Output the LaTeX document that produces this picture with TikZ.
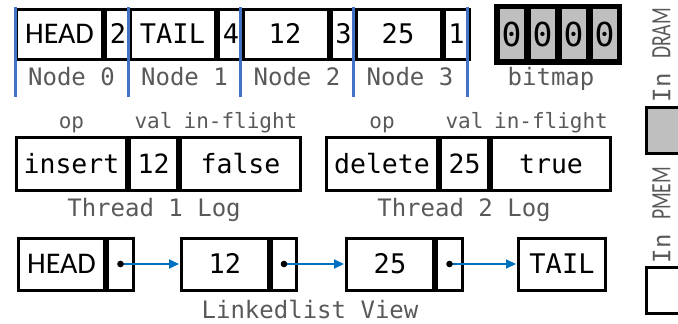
\documentclass[tikz,border=0pt]{standalone}
\usepackage{fontspec}
\usepackage{graphicx}
\setmonofont[RawFeature=+zero]{DejaVu Sans Mono}
\newfontfamily\sansfam{Carlito}
\usetikzlibrary{arrows.meta}
\definecolor{labgray}{HTML}{595959}
\definecolor{sepblue}{HTML}{4472C4}
\definecolor{ptrblue}{HTML}{0070C0}
\definecolor{bitgray}{HTML}{BFBFBF}

% memory legend label: mono "In", narrow sans memory name
\newcommand{\memlabel}[1]{\ttfamily\fontsize{24}{28}\selectfont In\ %
  \scalebox{0.7}[1]{\sansfam\fontsize{28}{30}\selectfont #1}}

\tikzset{
  cell/.style={draw=black, line width=3pt, rectangle, inner sep=0pt, anchor=west,
    minimum height=50pt, font=\ttfamily\fontsize{27}{30}\selectfont,
    text height=19.7pt, text depth=0pt},
  logcell/.style={cell, minimum height=53pt, font=\ttfamily\fontsize{26.5}{30}\selectfont,
    text height=19.3pt},
  listcell/.style={cell, minimum height=52pt},
  sanstext/.style={font=\sansfam\fontsize{30}{32}\selectfont, text height=19.3pt},
  bitcell/.style={draw=black, fill=bitgray, line width=3.5pt, rectangle, inner sep=0pt,
    anchor=west, minimum width=27.5pt, minimum height=53pt,
    font=\ttfamily\fontsize{33}{36}\selectfont, text height=24pt, text depth=0pt},
  caption/.style={anchor=base, inner sep=0pt, text=labgray,
    font=\ttfamily\fontsize{24}{28}\selectfont},
  header/.style={anchor=base, inner sep=0pt, text=labgray,
    font=\ttfamily\fontsize{21}{24}\selectfont},
  separator/.style={draw=sepblue, line width=3pt},
  pointer/.style={draw=ptrblue, line width=2pt, -{Triangle[length=10pt,width=9pt]}, shorten >=1pt},
  ptrdot/.style={fill=black},
  legendbox/.style={draw=black, line width=3pt, rectangle, inner sep=0pt, anchor=west,
    minimum width=45pt, minimum height=46pt},
  legendtext/.style={rotate=90, inner sep=0pt, text=labgray, text height=17.5pt, text depth=0pt},
}

\begin{document}
\begin{tikzpicture}[x=1pt, y=-1pt]
\useasboundingbox (0,0) rectangle (678,324);
\clip (0,0) rectangle (678,324);

% ---- node array ----
\node[cell, sanstext, minimum width=86pt] (a0v) at (15,34) {HEAD};
\node[cell, minimum width=25pt] (a0c) at (a0v.east) {2};
\node[cell, minimum width=86pt] (a1v) at (128,34) {TAIL};
\node[cell, minimum width=25pt] (a1c) at (a1v.east) {4};
\node[cell, minimum width=86pt] (a2v) at (240.5,34) {12};
\node[cell, minimum width=25pt] (a2c) at (a2v.east) {3};
\node[cell, minimum width=86pt] (a3v) at (353.5,34) {25};
\node[cell, minimum width=25pt] (a3c) at (a3v.east) {1};

\foreach \x [count=\i from 0] in {15,128,240.5,353.5,467} {
  \coordinate (s\i t) at (\x,7);
  \coordinate (s\i b) at (\x,97);
  \draw[separator] (s\i t) -- (s\i b);
}

\node[caption] (l0) at (71.5,85) {Node 0};
\node[caption] (l1) at (184.5,85) {Node 1};
\node[caption] (l2) at (297,85) {Node 2};
\node[caption] (l3) at (410,85) {Node 3};

% ---- bitmap ----
\node[bitcell] (b1) at (496,34) {0};
\node[bitcell] (b2) at (b1.east) {0};
\node[bitcell] (b3) at (b2.east) {0};
\node[bitcell] (b4) at (b3.east) {0};
\draw[line width=4.5pt] (b1.north west) rectangle (b4.south east);
\node[caption] (bl) at (551,85) {bitmap};

% ---- thread logs ----
\node[logcell, minimum width=110pt] (t1op) at (15,163.5) {insert};
\node[logcell, minimum width=48pt] (t1val) at (t1op.east) {12};
\node[logcell, minimum width=120pt] (t1fl) at (t1val.east) {false};
\node[header] (h1op) at (t1op.center |- 0,128) {op};
\node[header] (h1val) at (t1val.center |- 0,128) {val};
\node[header] (h1fl) at (t1fl.center |- 0,128) {in-flight};
\node[caption] (t1l) at (154,216) {Thread 1 Log};

\node[logcell, minimum width=111pt] (t2op) at (325,163.5) {delete};
\node[logcell, minimum width=48pt] (t2val) at (t2op.east) {25};
\node[logcell, minimum width=119pt] (t2fl) at (t2val.east) {true};
\node[header] (h2op) at (t2op.center |- 0,128) {op};
\node[header] (h2val) at (t2val.center |- 0,128) {val};
\node[header] (h2fl) at (t2fl.center |- 0,128) {in-flight};
\node[caption] (t2l) at (464,216) {Thread 2 Log};

% ---- linked list ----
\node[listcell, sanstext, minimum width=86pt] (lhv) at (17,264) {HEAD};
\node[listcell, minimum width=26pt] (lhp) at (lhv.east) {};
\node[listcell, minimum width=87pt] (l12v) at (180,264) {12};
\node[listcell, minimum width=25pt] (l12p) at (l12v.east) {};
\node[listcell, minimum width=87pt] (l25v) at (345,264) {25};
\node[listcell, minimum width=26pt] (l25p) at (l25v.east) {};
\node[listcell, minimum width=87pt] (ltv) at (517,264) {TAIL};

\draw[pointer] (lhp.center) -- (l12v.west);
\draw[pointer] (l12p.center) -- (l25v.west);
\draw[pointer] (l25p.center) -- (ltv.west);
\fill[ptrdot] (lhp.center) circle (3.3pt);
\fill[ptrdot] (l12p.center) circle (3.3pt);
\fill[ptrdot] (l25p.center) circle (3.3pt);

\node[caption] (llv) at (310,318) {Linkedlist View};

% ---- legend ----
\node[legendtext] (ldram) at (661.5,55) {\memlabel{DRAM}};
\node[legendbox, fill=bitgray] (lgray) at (645,130) {};
\node[legendtext] (lpmem) at (661.5,215) {\memlabel{PMEM}};
\node[legendbox, fill=white] (lwhite) at (645,290) {};
\end{tikzpicture}
\end{document}
